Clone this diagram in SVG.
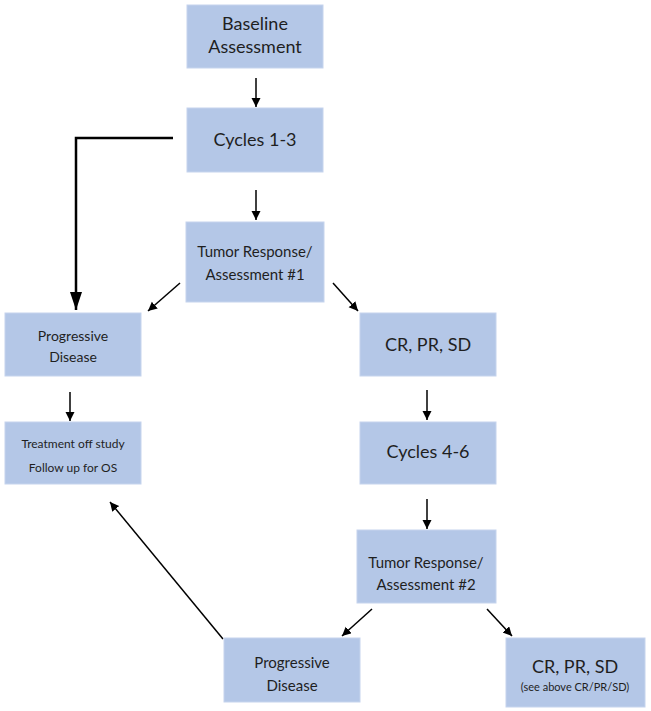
<svg xmlns="http://www.w3.org/2000/svg" width="651" height="711" viewBox="0 0 651 711">
<defs>
<style>
.box{fill:#b4c7e7;stroke:#c6d4ed;stroke-width:1}
text{font-family:Lato,"Open Sans","Liberation Sans",sans-serif;fill:#1f1f1f;text-anchor:middle}
.big{font-size:18px}
.mid{font-size:15px}
.pd{font-size:14px}
.sm{font-size:12px}
.xs{font-size:11px}
.c{stroke:#000;stroke-width:1.5;fill:none;marker-end:url(#ah)}
.thick{stroke:#000;stroke-width:2.5;fill:none;marker-end:url(#ahb)}
</style>
<marker id="ah" markerWidth="10" markerHeight="10" refX="9" refY="4.5" orient="auto" markerUnits="userSpaceOnUse">
<path d="M0,0 L9,4.5 L0,9 z" fill="#000"/>
</marker>
<marker id="ahb" markerWidth="20" markerHeight="14" refX="18" refY="6" orient="auto" markerUnits="userSpaceOnUse">
<path d="M0,0 L18,6 L0,12 z" fill="#000"/>
</marker>
</defs>
<rect width="651" height="711" fill="#fff"/>
<g id="connectors">
<line class="c" x1="256" y1="78" x2="256" y2="107"/>
<polyline class="thick" points="173,138 76,138 76,310"/>
<line class="c" x1="256" y1="190" x2="256" y2="220"/>
<line class="c" x1="180" y1="283" x2="148" y2="311"/>
<line class="c" x1="333" y1="283" x2="358" y2="311"/>
<line class="c" x1="70" y1="392" x2="70" y2="421"/>
<line class="c" x1="427" y1="390" x2="427" y2="420"/>
<line class="c" x1="427" y1="499" x2="427" y2="529"/>
<line class="c" x1="372" y1="609" x2="342" y2="636"/>
<line class="c" x1="487" y1="609" x2="512" y2="636"/>
<line class="c" x1="223" y1="639" x2="110" y2="502"/>
</g>
<g id="baseline">
<rect class="box" x="187" y="5" width="136" height="63"/>
<text class="big" x="255" y="30">Baseline</text>
<text class="big" x="255" y="53">Assessment</text>
</g>
<g id="cycles13">
<rect class="box" x="187" y="108" width="136" height="64"/>
<text class="big" x="255" y="146">Cycles 1-3</text>
</g>
<g id="tumor1">
<rect class="box" x="186" y="222" width="138" height="80"/>
<text class="mid" x="255" y="257">Tumor Response/</text>
<text class="mid" x="255" y="280">Assessment #1</text>
</g>
<g id="pd1">
<rect class="box" x="5" y="313" width="136" height="63"/>
<text class="pd" x="73" y="341">Progressive</text>
<text class="pd" x="73" y="362">Disease</text>
</g>
<g id="offstudy">
<rect class="box" x="5" y="422" width="136" height="62"/>
<text class="sm" x="73" y="448">Treatment off study</text>
<text class="sm" x="73" y="472">Follow up for OS</text>
</g>
<g id="crprsd1">
<rect class="box" x="360" y="313" width="136" height="63"/>
<text class="big" x="428" y="351">CR, PR, SD</text>
</g>
<g id="cycles46">
<rect class="box" x="360" y="422" width="136" height="62"/>
<text class="big" x="428" y="458">Cycles 4-6</text>
</g>
<g id="tumor2">
<rect class="box" x="357" y="530" width="139" height="73"/>
<text class="mid" x="426" y="568">Tumor Response/</text>
<text class="mid" x="426" y="590">Assessment #2</text>
</g>
<g id="pd2">
<rect class="box" x="224" y="638" width="136" height="64"/>
<text class="mid" x="292" y="668">Progressive</text>
<text class="mid" x="292" y="691">Disease</text>
</g>
<g id="crprsd2">
<rect class="box" x="506" y="638" width="139" height="69"/>
<text class="big" x="575" y="673">CR, PR, SD</text>
<text class="xs" x="575" y="691">(see above CR/PR/SD)</text>
</g>
</svg>
